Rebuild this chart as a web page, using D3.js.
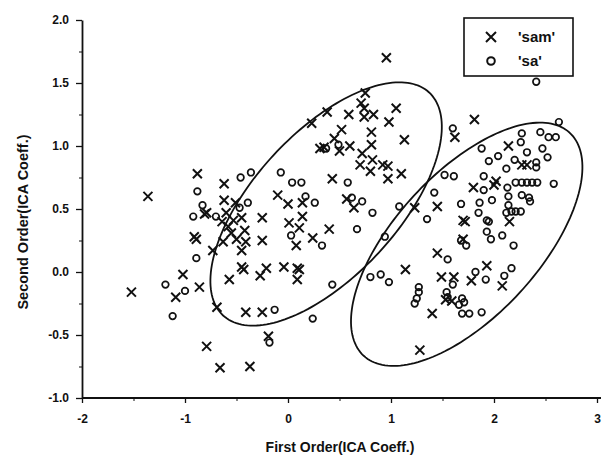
<!DOCTYPE html>
<html>
<head>
<meta charset="utf-8">
<script src="https://cdn.jsdelivr.net/npm/d3@7"></script>
<style>
  body { margin: 0; background: #fff; }
  text { font-family: "Liberation Sans", Arial, sans-serif; fill: #111; }
</style>
</head>
<body>
<svg id="chart" width="610" height="460"></svg>
<script>
const xTicks = [-2, -1, 0, 1, 2, 3];
const xMinor = [-1.5, -0.5, 0.5, 1.5, 2.5];
const yTicks = [-1.0, -0.5, 0.0, 0.5, 1.0, 1.5, 2.0];
const yMinor = [-0.75, -0.25, 0.25, 0.75, 1.25, 1.75];

const seriesNames = ["'sam'", "'sa'"];

// 'sam' points (x markers)
const sam = [
  [-1.52,-0.16],[-1.36,0.60],[-0.88,0.78],[-0.91,0.28],[-0.89,0.26],[-0.81,0.46],[-0.79,0.47],
  [-1.02,-0.02],[-1.09,-0.20],[-0.86,-0.12],[-0.73,0.17],[-0.62,0.70],[-0.62,0.57],[-0.60,0.47],
  [-0.64,0.40],[-0.58,0.36],[-0.53,0.41],[-0.51,0.55],[-0.55,0.31],[-0.50,0.26],[-0.45,0.43],
  [-0.42,0.33],[-0.45,0.17],[-0.41,0.24],[-0.63,0.24],[-0.57,-0.06],[-0.45,0.04],[-0.43,0.02],
  [-0.69,-0.28],[-0.79,-0.59],[-0.66,-0.76],[-0.37,-0.75],[-0.41,-0.32],[-0.25,-0.32],[-0.19,-0.51],
  [-0.27,-0.03],[-0.21,0.03],[-0.25,0.25],[-0.25,0.43],[-0.10,0.61],[0.0,0.54],[0.01,0.39],
  [-0.04,0.04],[0.09,0.03],[0.11,0.02],[0.09,-0.06],[0.08,0.21],[0.11,0.35],[0.14,0.44],[0.14,0.55],
  [0.24,0.27],[0.40,0.34],[0.43,0.74],[0.23,1.18],[0.38,1.27],[0.31,0.98],[0.35,0.99],[0.45,1.06],
  [0.52,1.13],[0.50,0.96],[0.60,1.00],[0.59,1.25],[0.71,1.34],[0.75,1.42],[0.74,1.30],[0.74,1.23],
  [0.83,1.25],[0.81,1.11],[0.81,1.01],[0.72,0.94],[0.70,0.85],[0.82,0.89],[0.80,0.80],[0.92,0.85],
  [0.97,0.84],[0.97,0.74],[0.98,1.19],[1.05,1.30],[1.13,1.05],[1.10,0.78],[0.57,0.58],[0.64,0.51],
  [0.955,1.70],
  [1.23,0.51],[1.14,0.02],[1.45,0.52],[1.45,0.15],[1.49,-0.04],[1.40,-0.33],[1.28,-0.62],[1.61,-0.04],
  [1.53,-0.22],[1.59,-0.23],[1.70,0.41],[1.72,0.40],[1.70,0.26],[1.78,-0.07],[1.80,0.67],[1.81,1.21],
  [1.62,1.07],[1.93,0.05],[2.02,0.72],[2.14,1.00],[2.15,0.40],[2.08,-0.11],[2.27,0.85],[2.32,0.85],
  [2.00,0.69]
];

// 'sa' points (o markers)
const sa = [
  [-0.88,0.64],[-0.83,0.53],[-0.92,0.44],[-0.70,0.44],[-0.46,0.75],[-0.36,0.79],[-0.39,0.55],
  [-0.47,0.51],[-0.89,0.11],[-1.19,-0.10],[-1.00,-0.15],[-1.12,-0.35],[-0.07,0.79],[0.04,0.71],
  [0.13,0.71],[0.17,0.60],[0.26,0.55],[0.37,0.98],[0.49,1.01],[0.58,0.71],[0.03,0.29],[0.33,0.21],
  [-0.13,-0.30],[0.24,-0.37],[0.43,-0.10],[-0.18,-0.56],[0.72,0.56],[0.82,0.47],[0.67,0.34],
  [0.62,0.59],[0.94,0.28],[0.80,-0.04],[0.90,-0.02],[0.98,-0.08],[1.08,0.52],
  [2.41,1.51],[2.63,1.19],[1.60,1.14],[2.58,0.70],[2.53,1.07],[2.60,1.07],[2.45,1.11],[2.27,1.10],
  [2.26,1.03],[2.32,0.95],[2.47,0.98],[2.52,0.91],[2.41,0.87],[2.41,0.83],[2.20,0.89],[2.12,0.82],
  [2.04,0.92],[1.95,0.88],[1.90,0.76],[1.90,0.65],[1.98,0.57],[2.13,0.67],[2.14,0.60],[2.21,0.71],
  [2.27,0.71],[2.32,0.71],[2.37,0.71],[2.42,0.71],[2.27,0.61],[2.34,0.59],[2.35,0.56],[2.14,0.53],
  [2.17,0.48],[2.21,0.48],[2.26,0.48],[2.12,0.47],[1.86,0.55],[1.85,0.47],[1.93,0.41],[1.68,0.54],
  [1.42,0.63],[1.35,0.42],[1.52,0.77],[1.61,0.76],[1.88,0.98],[1.27,-0.12],[1.27,-0.16],[1.25,-0.21],
  [1.23,-0.25],[1.55,0.10],[1.68,0.25],[1.73,0.21],[1.95,0.40],[1.93,0.32],[1.97,0.26],[2.08,0.29],
  [2.19,0.21],[2.17,0.03],[2.10,-0.03],[1.92,-0.06],[1.82,0.00],[1.60,-0.10],[1.54,-0.16],[1.55,-0.20],
  [1.69,-0.21],[1.71,-0.24],[1.66,-0.26],[1.69,-0.33],[1.76,-0.33],[1.88,-0.32]
];

// cluster ellipses in data units: centre, major and minor half-axis vectors
const ellipseCenters = [[0.37, 0.54], [1.735, 0.22]];
const ellipseMajor = [1.0, 0.885];
const ellipseMinor = [0.512, -0.386];

const svg = d3.select("#chart");

const x = d3.scaleLinear().domain([-2, 3]).range([82, 597]);
const y = d3.scaleLinear().domain([-1, 2]).range([398, 20]);

// axes
svg.append("g")
  .attr("transform", "translate(0,398)")
  .call(d3.axisBottom(x).tickValues(xTicks).tickFormat(d => String(d)).tickSize(5).tickSizeOuter(0))
  .call(g => g.select(".domain").attr("stroke", "#111").attr("stroke-width", 1.8).attr("d", "M82,0H601"))
  .call(g => g.selectAll(".tick line").attr("stroke", "#111").attr("stroke-width", 1.3))
  .call(g => g.selectAll(".tick text").attr("dy", "1.45em").style("font-size", "12px").style("font-weight", "bold"));

svg.append("g")
  .attr("transform", "translate(0,398)")
  .call(d3.axisBottom(x).tickValues(xMinor).tickFormat("").tickSize(3).tickSizeOuter(0))
  .call(g => g.select(".domain").remove())
  .call(g => g.selectAll(".tick line").attr("stroke", "#111"));

svg.append("g")
  .attr("transform", "translate(82,0)")
  .call(d3.axisLeft(y).tickValues(yTicks).tickFormat(d => d.toFixed(1)).tickSize(6).tickSizeOuter(0))
  .call(g => g.select(".domain").attr("stroke", "#111").attr("stroke-width", 1.8))
  .call(g => g.selectAll(".tick line").attr("stroke", "#111").attr("stroke-width", 1.3))
  .call(g => g.selectAll(".tick text").attr("x", -13).style("font-size", "12px").style("font-weight", "bold"));

svg.append("g")
  .attr("transform", "translate(82,0)")
  .call(d3.axisLeft(y).tickValues(yMinor).tickFormat("").tickSize(3).tickSizeOuter(0))
  .call(g => g.select(".domain").remove())
  .call(g => g.selectAll(".tick line").attr("stroke", "#111"));

// axis titles
svg.append("text")
  .attr("x", 340).attr("y", 452)
  .attr("text-anchor", "middle")
  .style("font-size", "14px").style("font-weight", "bold")
  .text("First Order(ICA Coeff.)");

svg.append("text")
  .attr("transform", "translate(28,222) rotate(-90)")
  .attr("text-anchor", "middle")
  .style("font-size", "14.5px").style("font-weight", "bold")
  .text("Second Order(ICA Coeff.)");

// ellipses
const line = d3.line().x(d => x(d[0])).y(d => y(d[1])).curve(d3.curveLinearClosed);
ellipseCenters.forEach(c => {
  const pts = d3.range(0, 2 * Math.PI, Math.PI / 90).map(t => [
    c[0] + ellipseMajor[0] * Math.cos(t) + ellipseMinor[0] * Math.sin(t),
    c[1] + ellipseMajor[1] * Math.cos(t) + ellipseMinor[1] * Math.sin(t)
  ]);
  svg.append("path")
    .attr("d", line(pts))
    .attr("fill", "none")
    .attr("stroke", "#111")
    .attr("stroke-width", 1.8);
});

// markers
const cross = (g, cx, cy, r) => {
  g.append("path")
    .attr("d", `M${cx - r},${cy - r}L${cx + r},${cy + r}M${cx - r},${cy + r}L${cx + r},${cy - r}`)
    .attr("stroke", "#111").attr("stroke-width", 2).attr("fill", "none");
};

const samG = svg.append("g");
sam.forEach(d => cross(samG, x(d[0]), y(d[1]), 4.5));

svg.append("g").selectAll("circle")
  .data(sa)
  .enter()
  .append("circle")
    .attr("cx", d => x(d[0]))
    .attr("cy", d => y(d[1]))
    .attr("r", 3.3)
    .attr("fill", "none")
    .attr("stroke", "#111")
    .attr("stroke-width", 1.7);

// legend
const legend = svg.append("g");
legend.append("rect")
  .attr("x", 464).attr("y", 18).attr("width", 109).attr("height", 58)
  .attr("fill", "#fff").attr("stroke", "#111").attr("stroke-width", 1.6);
cross(legend, 491, 37, 5);
legend.append("circle")
  .attr("cx", 491).attr("cy", 61).attr("r", 3.8)
  .attr("fill", "none").attr("stroke", "#111").attr("stroke-width", 2);
legend.selectAll("text.lbl")
  .data(seriesNames)
  .enter()
  .append("text")
    .attr("class", "lbl")
    .attr("x", 518)
    .attr("y", (d, i) => 42 + i * 24)
    .style("font-size", "15px").style("font-weight", "bold")
    .text(d => d);
</script>
</body>
</html>
